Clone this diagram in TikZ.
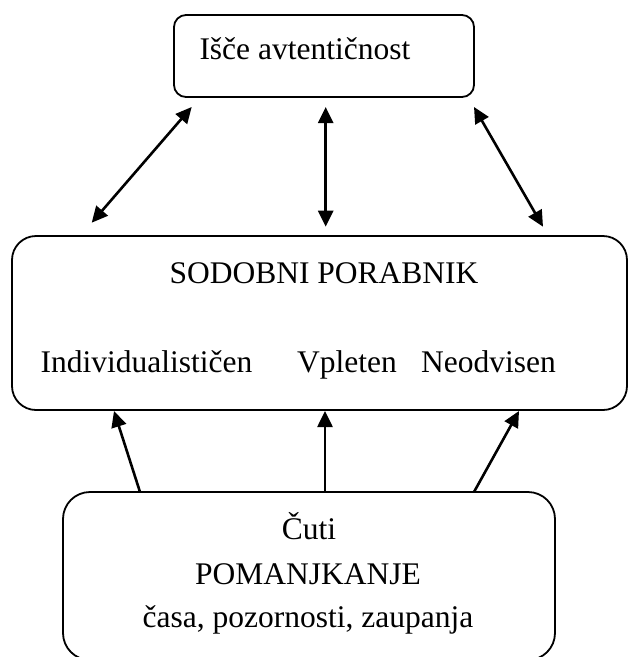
\documentclass[tikz,border=0pt]{standalone}
\usepackage{fontspec}
\setmainfont{Liberation Serif}
\usetikzlibrary{arrows.meta}
\begin{document}
\begin{tikzpicture}[x=1pt,y=-1pt,
  boxstyle/.style={draw=black, line width=1.8pt, outer sep=0pt, inner sep=0pt},
  txt/.style={inner sep=0pt, font=\fontsize{31.5}{38}\selectfont},
  arr/.style={line width=2.6pt, -{Triangle[length=16pt,width=15pt]}},
  darr/.style={line width=2.6pt, {Triangle[length=16pt,width=15pt]}-{Triangle[length=16pt,width=15pt]}}]
\useasboundingbox (0,0) rectangle (628,657);
% boxes
\node[boxstyle, rounded corners=12pt, minimum width=300pt, minimum height=82pt] (top) at (324,56) {};
\node[boxstyle, rounded corners=24pt, minimum width=615pt, minimum height=174pt] (mid) at (319.5,323) {};
\node[boxstyle, rounded corners=27pt, minimum width=492pt, minimum height=168pt] (bot) at (309,576) {};
% texts
\node[txt, anchor=base west] (t1) at (199.3,59) {Išče avtentičnost};
\node[txt, anchor=base] (m1) at (324,283) {SODOBNI PORABNIK};
\node[txt, anchor=base west] (m2) at (40.5,372) {Individualističen};
\node[txt, anchor=base west] (m3) at (297,372) {Vpleten};
\node[txt, anchor=base west] (m4) at (421,372) {Neodvisen};
\node[txt, anchor=base] (b1) at (309,539) {Čuti};
\node[txt, anchor=base] (b2) at (308,584) {POMANJKANJE};
\node[txt, anchor=base] (b3) at (308,627) {časa, pozornosti, zaupanja};
% top arrows
\draw[darr] ([xshift=17.7pt,yshift=-10pt]top.south west) -- ([xshift=79.7pt,yshift=13.3pt]mid.north west);
\draw[darr] ([xshift=1.7pt,yshift=-10pt]top.south) -- ([xshift=6.2pt,yshift=9.3pt]mid.north);
\draw[darr] ([yshift=-10pt]top.south east) -- ([xshift=-84pt,yshift=9.3pt]mid.north east);
% bottom arrows
\draw[arr] ([xshift=77pt]bot.north west) -- ([xshift=102pt,yshift=-1pt]mid.south west);
\draw[arr] ([xshift=16pt]bot.north) -- ([xshift=5.5pt,yshift=-1pt]mid.south);
\draw[arr] ([xshift=-81pt]bot.north east) -- ([xshift=-108pt,yshift=-1pt]mid.south east);
\end{tikzpicture}
\end{document}
